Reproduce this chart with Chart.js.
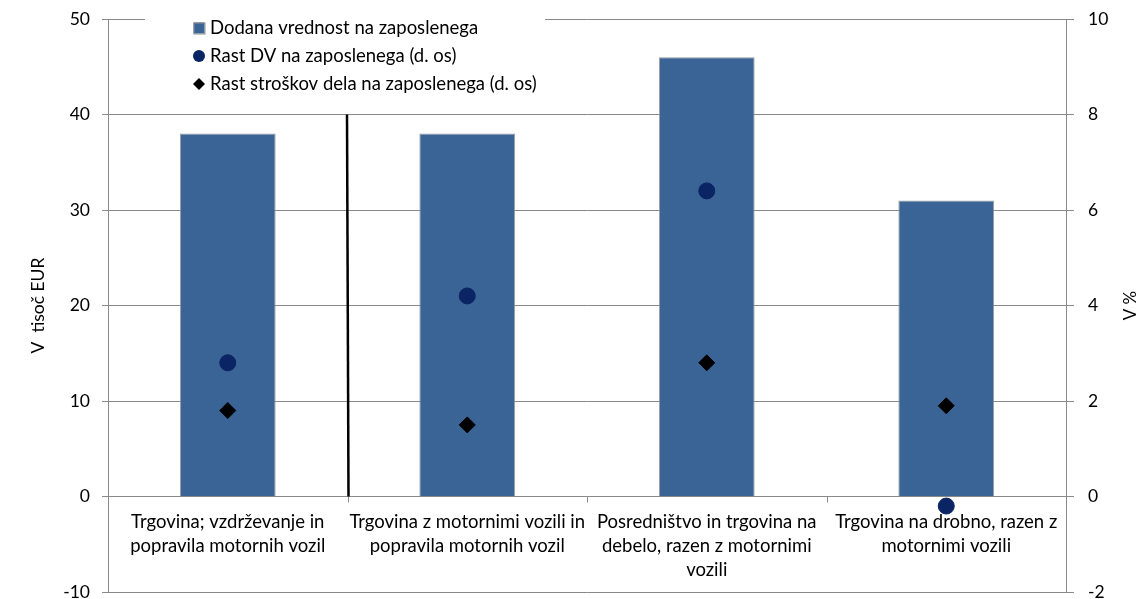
<!DOCTYPE html>
<html>
<head>
<meta charset="utf-8">
<script src="https://cdn.jsdelivr.net/npm/chart.js@4.4.1/dist/chart.umd.min.js"></script>
<style>
  html, body { margin: 0; padding: 0; background: #fff; }
  #wrap { width: 1147px; height: 599px; }
</style>
</head>
<body>
<div id="wrap"><canvas id="c" width="1147" height="599"></canvas></div>
<script>
// ---- data ----
const categories = [
  ["Trgovina; vzdrževanje in", "popravila motornih vozil"],
  ["Trgovina z motornimi vozili in", "popravila motornih vozil"],
  ["Posredništvo in trgovina na", "debelo, razen z motornimi", "vozili"],
  ["Trgovina na drobno, razen z", "motornimi vozili"]
];
const valueAddedPerEmployee = [38, 38, 46, 31];          // V tisoč EUR (left axis)
const growthValueAdded = [2.8, 4.2, 6.4, -0.2];          // V % (right axis)
const growthLabourCost = [1.8, 1.5, 2.8, 1.9];           // V % (right axis)
const seriesNames = [
  "Dodana vrednost na zaposlenega",
  "Rast DV na zaposlenega (d. os)",
  "Rast stroškov dela na zaposlenega (d. os)"
];
const leftTitle = "V  tisoč EUR";
const rightTitle = "V %";
const separatorRange = [0, 40]; // vertical divider after first category, in left-axis units

const FONT = "Lato";
const GRID = "#898989";
const BAR = "#3a6496";
const NAVY = "#0b2464";

const overlay = {
  id: "overlay",
  afterDraw(chart) {
    const ctx = chart.ctx;
    const x = chart.scales.x, y = chart.scales.y, area = chart.chartArea;
    const y0 = y.getPixelForValue(0);
    const catW = (area.right - area.left) / categories.length;
    ctx.save();
    // category-boundary tick marks on the zero line
    ctx.strokeStyle = GRID; ctx.lineWidth = 1;
    for (let i = 1; i <= categories.length; i++) {
      const bx = Math.round(area.left + i * catW) + 0.5;
      ctx.beginPath(); ctx.moveTo(bx, y0); ctx.lineTo(bx, y0 + 6); ctx.stroke();
    }
    // black separator after first category
    const sx = (x.getPixelForValue(0) + x.getPixelForValue(1)) / 2;
    ctx.strokeStyle = "#000"; ctx.lineWidth = 2.5;
    ctx.beginPath();
    ctx.moveTo(sx - 0.5, y.getPixelForValue(separatorRange[1]));
    ctx.lineTo(sx + 1, y.getPixelForValue(separatorRange[0]));
    ctx.stroke();
    // category labels below the zero line
    ctx.fillStyle = "#000";
    ctx.font = "18.5px " + FONT;
    ctx.textAlign = "center"; ctx.textBaseline = "middle";
    categories.forEach((lines, i) => {
      const cx = x.getPixelForValue(i);
      lines.forEach((t, j) => ctx.fillText(t, cx, y0 + 26 + j * 24));
    });
    // legend
    ctx.fillStyle = "#fff";
    ctx.fillRect(145, 4, 400, 96);
    const lx = 199, tx = 210, ly = [28, 56, 84];
    ctx.fillStyle = BAR; ctx.strokeStyle = "#8c8c8c"; ctx.lineWidth = 1;
    ctx.fillRect(lx - 5.5, ly[0] - 5.5, 11, 11);
    ctx.strokeRect(lx - 5, ly[0] - 5, 11, 11);
    ctx.fillStyle = NAVY;
    ctx.beginPath(); ctx.arc(lx, ly[1], 6, 0, Math.PI * 2); ctx.fill();
    ctx.fillStyle = "#000";
    ctx.beginPath();
    ctx.moveTo(lx - 6, ly[2]); ctx.lineTo(lx, ly[2] - 6);
    ctx.lineTo(lx + 6, ly[2]); ctx.lineTo(lx, ly[2] + 6); ctx.closePath(); ctx.fill();
    ctx.textAlign = "left";
    seriesNames.forEach((n, i) => ctx.fillText(n, tx, ly[i]));
    // right axis title (rotated counter-clockwise)
    ctx.font = "17px " + FONT;
    ctx.translate(1131, (area.top + area.bottom) / 2);
    ctx.rotate(-Math.PI / 2);
    ctx.textAlign = "center";
    ctx.fillText(rightTitle, 0, 0);
    ctx.restore();
  }
};

function draw() {
  new Chart(document.getElementById("c"), {
    data: {
      labels: categories.map(c => c.join(" ")),
      datasets: [
        {
          type: "line", label: seriesNames[1], data: growthValueAdded, yAxisID: "y1",
          showLine: false, pointStyle: "circle", pointRadius: 8, pointHoverRadius: 8,
          backgroundColor: NAVY, borderColor: NAVY, pointBorderWidth: 1, order: 1
        },
        {
          type: "line", label: seriesNames[2], data: growthLabourCost, yAxisID: "y1",
          showLine: false, pointStyle: "rectRot", pointRadius: 8, pointHoverRadius: 8,
          backgroundColor: "#000", borderColor: "#000", pointBorderWidth: 1, order: 1
        },
        {
          type: "bar", label: seriesNames[0], data: valueAddedPerEmployee, yAxisID: "y",
          backgroundColor: BAR, borderColor: "#9c9c9c", borderWidth: 1,
          barPercentage: 0.4, categoryPercentage: 1, order: 2
        }
      ]
    },
    options: {
      responsive: false,
      animation: false,
      layout: { autoPadding: false, padding: { top: 19, bottom: 7, left: 0, right: 0 } },
      plugins: { legend: { display: false }, tooltip: { enabled: false } },
      scales: {
        x: { type: "category", display: false, offset: true },
        y: {
          position: "left", min: -10, max: 50,
          ticks: { stepSize: 10, color: "#000", font: { family: FONT, size: 17.5 }, padding: 12 },
          grid: { color: GRID, tickLength: 6, drawTicks: true },
          border: { color: GRID, width: 1 },
          title: { display: true, text: leftTitle, color: "#000",
                   font: { family: FONT, size: 17.5 }, padding: { top: 28, bottom: 0 } },
          afterFit(s) { s.width = 108; s.paddingTop = 0; s.paddingBottom = 0; }
        },
        y1: {
          position: "right", min: -2, max: 10,
          ticks: { stepSize: 2, color: "#000", font: { family: FONT, size: 17.5 }, padding: 14 },
          grid: { color: GRID, tickLength: 8, drawOnChartArea: false, drawTicks: true },
          border: { color: GRID, width: 1 },
          afterFit(s) { s.width = 81; s.paddingTop = 0; s.paddingBottom = 0; }
        }
      }
    },
    plugins: [overlay]
  });
}
if (document.fonts && document.fonts.load) {
  document.fonts.load("17px " + FONT).then(draw, draw);
} else { draw(); }
</script>
</body>
</html>
